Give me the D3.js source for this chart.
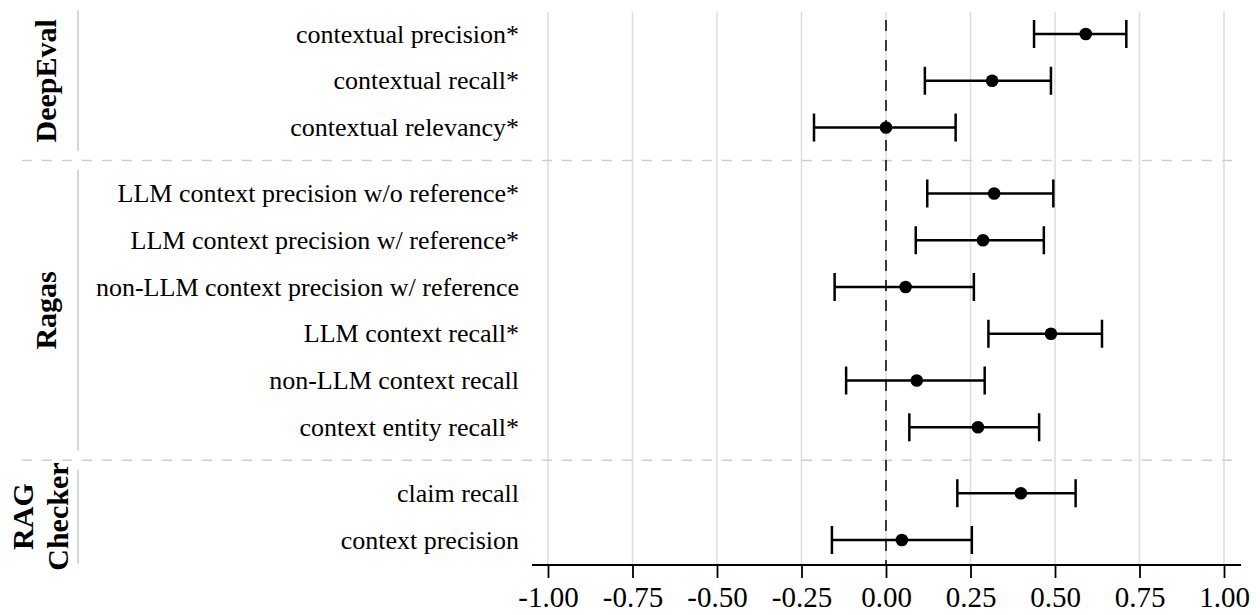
<!DOCTYPE html>
<html>
<head>
<meta charset="utf-8">
<script src="https://cdn.jsdelivr.net/npm/d3@7"></script>
<style>
  body { margin: 0; background: #fff; }
  svg { display: block; font-family: "Liberation Serif", "DejaVu Serif", serif; }
</style>
</head>
<body>
<div id="chart"></div>
<script>
const groups = ['DeepEval', 'Ragas', 'RAG Checker'];
const metrics = [
  'contextual precision*', 'contextual recall*', 'contextual relevancy*',
  'LLM context precision w/o reference*', 'LLM context precision w/ reference*',
  'non-LLM context precision w/ reference', 'LLM context recall*',
  'non-LLM context recall', 'context entity recall*',
  'claim recall', 'context precision'
];
const metricGroup = [0, 0, 0, 1, 1, 1, 1, 1, 1, 2, 2];
const estimate = [0.591, 0.314, 0.0, 0.32, 0.287, 0.058, 0.488, 0.091, 0.272, 0.399, 0.047];
const lower = [0.438, 0.115, -0.213, 0.122, 0.088, -0.152, 0.303, -0.118, 0.069, 0.211, -0.16];
const upper = [0.711, 0.488, 0.206, 0.495, 0.467, 0.26, 0.639, 0.292, 0.453, 0.561, 0.254];
const xTicks = [-1, -0.75, -0.5, -0.25, 0, 0.25, 0.5, 0.75, 1];

const width = 1260, height = 615;
const groupGap = 0.41;

const rows = metrics.map((m, i) => ({
  label: m, group: metricGroup[i], est: estimate[i], lo: lower[i], hi: upper[i],
  slot: i + metricGroup[i] * groupGap
}));

const x = d3.scaleLinear().domain([-1, 1]).range([548, 1224]);
const y = d3.scaleLinear().domain([0, d3.max(rows, d => d.slot)]).range([34, 540]);
const step = y(1) - y(0);
const axisY = 565;

const svg = d3.select('#chart').append('svg')
  .attr('width', width)
  .attr('height', height);

// vertical grid
svg.append('g')
  .selectAll('line')
  .data(xTicks)
  .join('line')
  .attr('x1', d => x(d)).attr('x2', d => x(d))
  .attr('y1', 12).attr('y2', axisY)
  .attr('stroke', '#dcdcdc')
  .attr('stroke-width', 1.5);

// group separators
const seps = groups.slice(1).map((g, gi) => {
  const prev = rows.filter(r => r.group === gi);
  const next = rows.filter(r => r.group === gi + 1);
  return (y(prev[prev.length - 1].slot) + y(next[0].slot)) / 2;
});
svg.append('g')
  .selectAll('line')
  .data(seps)
  .join('line')
  .attr('x1', 22).attr('x2', 1240)
  .attr('y1', d => d).attr('y2', d => d)
  .attr('stroke', '#cfcfcf')
  .attr('stroke-width', 1.5)
  .attr('stroke-dasharray', '10,10');

// zero reference
svg.append('line')
  .attr('x1', x(0)).attr('x2', x(0))
  .attr('y1', 20).attr('y2', axisY)
  .attr('stroke', '#000')
  .attr('stroke-width', 1.5)
  .attr('stroke-dasharray', '11,9');

// x axis
const axis = svg.append('g')
  .attr('transform', `translate(0,${axisY})`)
  .call(d3.axisBottom(x).tickValues(xTicks).tickFormat(d => d.toFixed(2)).tickSize(13).tickPadding(8));
axis.select('.domain').attr('d', `M532,0H1241`).attr('stroke-width', 1.8);
axis.selectAll('.tick line').attr('stroke-width', 1.8);
axis.selectAll('.tick text')
  .attr('font-family', '"Liberation Serif", serif')
  .attr('font-size', 29)
  .attr('fill', '#000');

// metric labels
svg.append('g')
  .selectAll('text')
  .data(rows)
  .join('text')
  .attr('x', 519)
  .attr('y', d => y(d.slot))
  .attr('dy', '0.33em')
  .attr('text-anchor', 'end')
  .attr('font-size', 26)
  .text(d => d.label);

// group brackets and names
const groupInfo = groups.map((g, gi) => {
  const rs = rows.filter(r => r.group === gi);
  return { name: g, top: y(rs[0].slot) - step / 2, bottom: y(rs[rs.length - 1].slot) + step / 2 };
});
svg.append('g')
  .selectAll('line')
  .data(groupInfo)
  .join('line')
  .attr('x1', 78).attr('x2', 78)
  .attr('y1', d => d.top).attr('y2', d => d.bottom)
  .attr('stroke', '#c8c8c8')
  .attr('stroke-width', 1.5);

const gLabels = svg.append('g')
  .selectAll('text')
  .data(groupInfo)
  .join('text')
  .attr('transform', d => `translate(56,${(d.top + d.bottom) / 2}) rotate(-90)`)
  .attr('text-anchor', 'middle')
  .attr('font-size', 30)
  .attr('font-weight', 'bold');
gLabels.each(function(d) {
  const parts = d.name.split(' ');
  const t = d3.select(this);
  if (parts.length === 1) {
    t.text(d.name);
  } else {
    parts.forEach((p, i) => {
      t.append('tspan')
        .attr('x', 0)
        .attr('y', (i - parts.length + 1) * 35 + 12)
        .text(p);
    });
  }
});

// error bars
const bars = svg.append('g')
  .selectAll('g')
  .data(rows)
  .join('g')
  .attr('transform', d => `translate(0,${y(d.slot)})`);
bars.append('line')
  .attr('x1', d => x(d.lo)).attr('x2', d => x(d.hi))
  .attr('stroke', '#000').attr('stroke-width', 2.5);
bars.append('line')
  .attr('x1', d => x(d.lo)).attr('x2', d => x(d.lo))
  .attr('y1', -14).attr('y2', 14)
  .attr('stroke', '#000').attr('stroke-width', 2.5);
bars.append('line')
  .attr('x1', d => x(d.hi)).attr('x2', d => x(d.hi))
  .attr('y1', -14).attr('y2', 14)
  .attr('stroke', '#000').attr('stroke-width', 2.5);
bars.append('circle')
  .attr('cx', d => x(d.est))
  .attr('r', 6.3)
  .attr('fill', '#000');
</script>
</body>
</html>
